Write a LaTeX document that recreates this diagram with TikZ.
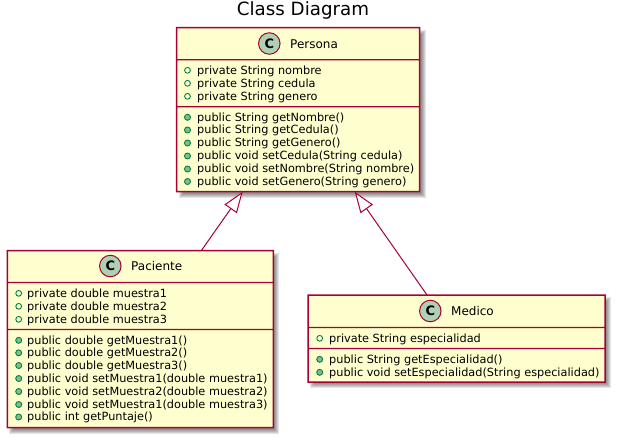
\documentclass[tikz,border=0pt]{standalone}
\usepackage{fontspec}
\setmainfont{DejaVu Sans}
\usetikzlibrary{arrows.meta,calc,backgrounds}
\definecolor{umlline}{HTML}{A80036}
\definecolor{umlfill}{HTML}{FEFECE}
\definecolor{spot}{HTML}{ADD1B2}
\definecolor{attrdot}{HTML}{038048}
\definecolor{methdot}{HTML}{84BE84}
\tikzset{
  classbox/.style={fill=umlfill,minimum width=#1,inner sep=0pt,outer sep=0pt,rectangle},
  spotc/.style={circle,draw=umlline,line width=1pt,fill=spot,minimum size=21.5pt,inner sep=0pt,font=\bfseries\fontsize{13}{14}\selectfont},
  cname/.style={anchor=west,inner sep=0pt,font=\fontsize{12}{12}\selectfont},
  member/.style={anchor=base west,inner sep=0pt,font=\fontsize{11.3}{12}\selectfont},
  attrm/.style={circle,draw=attrdot,line width=.9pt,fill=none,minimum size=5.8pt,inner sep=0pt},
  methm/.style={circle,draw=attrdot,line width=.9pt,fill=methdot,minimum size=6pt,inner sep=0pt},
  inherit/.style={draw=umlline,line width=1pt,-{Triangle[open,length=21pt,width=15pt,fill=white,line width=1pt]}},
  title/.style={inner sep=0pt,font=\fontsize{18.25}{19}\selectfont}
}
% name, marker style, dot x, text x, centre y, text
\newcommand{\memberrow}[6]{%
  \node[#2] (#1d) at (#3,#5) {};
  \node[member] (#1t) at (#4,#5+3.9) {#6};
}
% border of a class box and its two separators (y values), one filled even-odd path
\newcommand{\frameof}[3]{%
  \fill[umlline,even odd rule]
    ($(#1.north west)+(-.75,-.75)$) rectangle ($(#1.south east)+(.75,.75)$)
    ($(#1.north west)+(.75,.75)$) rectangle ($(#1.south east)+(-.75,-.75)$)
    ($(#1.west |- 0,#2)+(.75,-.7)$) rectangle ($(#1.east |- 0,#2)+(-.75,.7)$)
    ($(#1.west |- 0,#3)+(.75,-.7)$) rectangle ($(#1.east |- 0,#3)+(-.75,.7)$);
}
\newcommand{\blur}[1]{%
  \foreach \e in {-2,-1,0,1,2}{
    \fill[black,opacity=.1] ($(#1.north west)+(4-\e,4-\e)$) rectangle ($(#1.south east)+(4+\e,4+\e)$);
  }
}
\begin{document}
\begin{tikzpicture}[x=1pt,y=-1pt]
\useasboundingbox (0,0) rectangle (618,440);
\node[title] (ttl) at (303,10.5) {Class Diagram};

% Persona
\node[classbox=243pt,minimum height=164pt] (persona) at (298.2,109.7) {};
\frameof{persona}{59.7}{106.7}
\node[spotc] (pspot) at (269.3,43.5) {C};
\node[cname] (pname) at (290,44) {Persona};
\memberrow{pa1}{attrm}{187.5}{197}{70.3}{private String nombre}
\memberrow{pa2}{attrm}{187.5}{197}{83.3}{private String cedula}
\memberrow{pa3}{attrm}{187.5}{197}{96.3}{private String genero}
\memberrow{pm1}{methm}{187.5}{197}{117.3}{public String getNombre()}
\memberrow{pm2}{methm}{187.5}{197}{130}{public String getCedula()}
\memberrow{pm3}{methm}{187.5}{197}{143}{public String getGenero()}
\memberrow{pm4}{methm}{187.5}{197}{156}{public void setCedula(String cedula)}
\memberrow{pm5}{methm}{187.5}{197}{169}{public void setNombre(String nombre)}
\memberrow{pm6}{methm}{187.5}{197}{181.5}{public void setGenero(String genero)}

% Paciente
\node[classbox=266pt,minimum height=177pt] (paciente) at (140.4,339) {};
\frameof{paciente}{282.5}{329.5}
\node[spotc] (aspot) at (110.3,266) {C};
\node[cname] (aname) at (131,266.5) {Paciente};
\memberrow{aa1}{attrm}{18.7}{27}{293.3}{private double muestra1}
\memberrow{aa2}{attrm}{18.7}{27}{306.3}{private double muestra2}
\memberrow{aa3}{attrm}{18.7}{27}{319.3}{private double muestra3}
\memberrow{am1}{methm}{18.7}{27}{340.3}{public double getMuestra1()}
\memberrow{am2}{methm}{18.7}{27}{352.8}{public double getMuestra2()}
\memberrow{am3}{methm}{18.7}{27}{365.5}{public double getMuestra3()}
\memberrow{am4}{methm}{18.7}{27}{378.5}{public void setMuestra1(double muestra1)}
\memberrow{am5}{methm}{18.7}{27}{391.5}{public void setMuestra2(double muestra2)}
\memberrow{am6}{methm}{18.7}{27}{404.5}{public void setMuestra1(double muestra3)}
\memberrow{am7}{methm}{18.7}{27}{417}{public int getPuntaje()}

% Medico
\node[classbox=297pt,minimum height=87pt] (medico) at (456.5,338.5) {};
\frameof{medico}{327.5}{348.5}
\node[spotc] (mspot) at (430.3,311) {C};
\node[cname] (mname) at (451,311.5) {Medico};
\memberrow{ma1}{attrm}{319.7}{329}{338.3}{private String especialidad}
\memberrow{mm1}{methm}{319.7}{329}{359.3}{public String getEspecialidad()}
\memberrow{mm2}{methm}{319.7}{329}{372.3}{public void setEspecialidad(String especialidad)}

% shadows
\begin{scope}[on background layer]
\fill[white] (0,0) rectangle (618,440);
\blur{persona}
\blur{paciente}
\blur{medico}
\end{scope}

% inheritance
\coordinate (ptipa) at ($(persona.south west)+(66,0)$);
\coordinate (ptipm) at ($(persona.south west)+(178,0)$);
\coordinate (afoot) at ($(paciente.north west)+(194,0)$);
\coordinate (mfoot) at ($(medico.north west)+(119,0)$);
\draw[inherit] (afoot) -- (ptipa);
\draw[inherit] (mfoot) -- (ptipm);
\end{tikzpicture}
\end{document}
